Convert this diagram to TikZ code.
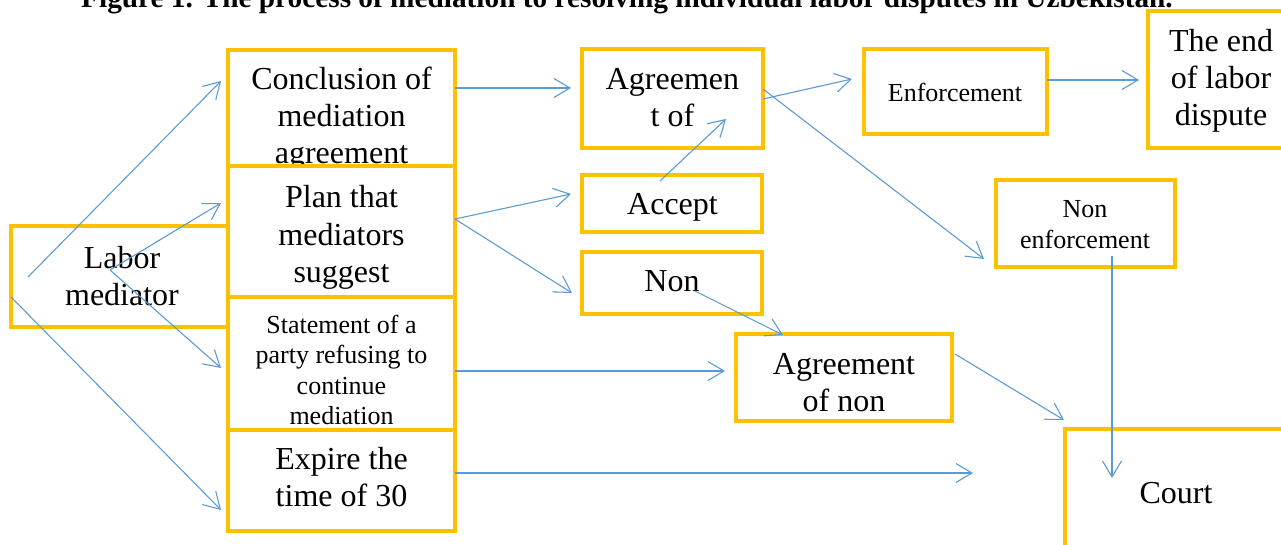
\documentclass[tikz,border=0pt]{standalone}
\usepackage{fontspec}
\setmainfont{Liberation Serif}
\usetikzlibrary{arrows.meta}
\definecolor{boxy}{HTML}{FFC000}
\definecolor{arrb}{HTML}{5B9BD5}
\begin{document}
\begin{tikzpicture}[x=1pt,y=-1pt,
  box/.style={draw=boxy, line width=3.2pt, fill=white, inner sep=0pt, outer sep=0pt},
  big/.style={anchor=base, inner sep=0pt, font=\fontsize{32}{37}\selectfont},
  small/.style={anchor=base, inner sep=0pt, font=\fontsize{26}{30.5}\selectfont},
  conn/.style={draw=arrb, line width=1.1pt, -{Straight Barb[length=16pt,width=19pt]}}]
\useasboundingbox (0,0) rectangle (1281,545);
% title (cut at top, as in the reference)
\node[anchor=base, inner sep=0pt, font=\bfseries\fontsize{29.3}{33}\selectfont] (title) at (627,8)
  {Figure 1. The process of mediation to resolving individual labor disputes in Uzbekistan.};
% left column
\node[box, minimum width=217pt, minimum height=101pt] (lab) at (119.5,276.5) {};
\node[big] (tlab) at (122,268) {\begin{tabular}[t]{@{}c@{}}Labor\\mediator\end{tabular}};
\node[box, minimum width=227pt, minimum height=116pt] (concl) at (341.5,108) {};
\node[big] (tconcl) at (341.5,90) {\begin{tabular}[t]{@{}c@{}}Conclusion of\\mediation\\agreement\end{tabular}};
\node[box, minimum width=227pt, minimum height=131pt] (plan) at (341.5,231.5) {};
\node[big] (tplan) at (341.5,208) {\begin{tabular}[t]{@{}c@{}}Plan that\\mediators\\suggest\end{tabular}};
\node[box, minimum width=227pt, minimum height=133pt] (stmt) at (341.5,363.5) {};
\node[small] (tstmt) at (341.5,333) {\begin{tabular}[t]{@{}c@{}}Statement of a\\party refusing to\\continue\\mediation\end{tabular}};
\node[box, minimum width=227pt, minimum height=101pt] (expire) at (341.5,480.5) {};
\node[big] (texpire) at (341.5,469) {\begin{tabular}[t]{@{}c@{}}Expire the\\time of 30\end{tabular}};
% middle column
\node[box, minimum width=181pt, minimum height=99pt] (agr) at (672.5,98.5) {};
\node[big] (tagr) at (672.5,90) {\begin{tabular}[t]{@{}c@{}}Agreemen\\t of\end{tabular}};
\node[box, minimum width=180pt, minimum height=57pt] (accept) at (672,203.5) {};
\node[big] (taccept) at (672.5,215) {Accept};
\node[box, minimum width=180pt, minimum height=62pt] (non) at (672,283) {};
\node[big] (tnon) at (672,291.5) {Non};
\node[box, minimum width=216pt, minimum height=87pt] (agrnon) at (844,377.5) {};
\node[big] (tagrnon) at (844,374) {\begin{tabular}[t]{@{}c@{}}Agreement\\of non\end{tabular}};
% right part
\node[box, minimum width=183pt, minimum height=85pt] (enf) at (955.5,91.5) {};
\node[small] (tenf) at (955,101.5) {Enforcement};
\node[box, minimum width=147pt, minimum height=137pt] (theend) at (1221.5,79.5) {};
\node[big] (ttheend) at (1221,51.5) {\begin{tabular}[t]{@{}c@{}}The end\\of labor\\dispute\end{tabular}};
\node[box, minimum width=179pt, minimum height=87pt] (nonenf) at (1085.5,223.5) {};
\node[small] (tnonenf) at (1085,218) {\begin{tabular}[t]{@{}c@{}}Non\\enforcement\end{tabular}};
\node[box, minimum width=235pt, minimum height=131pt] (court) at (1182.5,494.5) {};
\node[big] (tcourt) at (1176,503) {Court};
\coordinate (free) at (973,473);
% connectors
\draw[conn] ([shift={(17,0.5)}]lab.west) -- ([shift={(-7,-27)}]concl.west);
\draw[conn] ([shift={(-9.5,-6.5)}]lab.center) -- ([shift={(-7,-28.5)}]plan.west);
\draw[conn] ([shift={(-9.5,-6.5)}]lab.center) -- ([shift={(-7,4.5)}]stmt.west);
\draw[conn] ([shift={(0,20.5)}]lab.west) -- ([shift={(-7,29.5)}]expire.west);
\draw[conn] ([shift={(0,-20)}]concl.east) -- ([shift={(-11,-10.5)}]agr.west);
\draw[conn] ([shift={(0,-12.5)}]plan.east) -- ([shift={(-11,-9.5)}]accept.west);
\draw[conn] ([shift={(0,-12.5)}]plan.east) -- ([shift={(-10,10)}]non.west);
\draw[conn] ([shift={(-12,6)}]accept.north) -- ([shift={(53.5,20.5)}]agr.center);
\draw[conn] ([shift={(0,0.5)}]agr.east) -- ([shift={(-12,-12.5)}]enf.west);
\draw[conn] ([shift={(0,-9.5)}]agr.east) -- ([shift={(-12,35.5)}]nonenf.west);
\draw[conn] ([shift={(0,-11.5)}]enf.east) -- ([shift={(-9,0.5)}]theend.west);
\draw[conn] ([shift={(23,8)}]non.center) -- ([shift={(-61,1)}]agrnon.north);
\draw[conn] ([shift={(0,7.5)}]stmt.east) -- ([shift={(-11,-6.5)}]agrnon.west);
\draw[conn] ([shift={(3,-23.5)}]agrnon.east) -- ([shift={(-1,-9)}]court.north west);
\draw[conn] ([shift={(0,-7.5)}]expire.east) -- (free);
\draw[conn] ([shift={(26.5,-11)}]nonenf.south) -- ([shift={(47,49)}]court.north west);
\end{tikzpicture}
\end{document}
